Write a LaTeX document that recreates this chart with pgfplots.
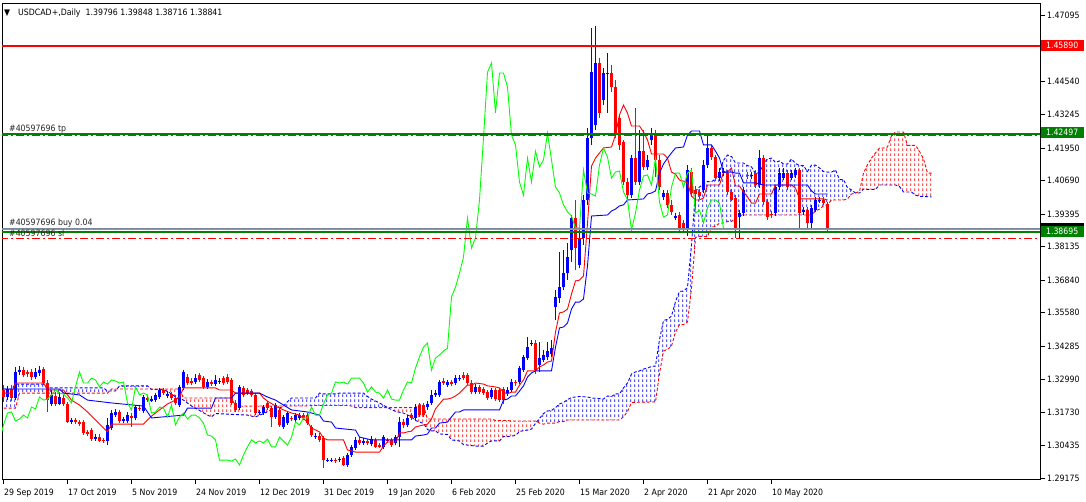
\documentclass[border=0pt]{standalone}
\usepackage{fontspec}
\setmainfont{DejaVu Sans Condensed}
\usepackage{pgfplots}
\pgfplotsset{compat=1.18}
\usepackage{pgfplotstable}
\usepgfplotslibrary{fillbetween}
\usetikzlibrary{patterns}
\definecolor{mtgreen}{RGB}{0,128,0}
\definecolor{mtlime}{RGB}{0,255,0}
\definecolor{mtred}{RGB}{255,0,0}
\definecolor{mtblue}{RGB}{0,0,255}
\definecolor{mtgray}{RGB}{119,136,153}
\pgfdeclarepatternformonly{mthatch}{\pgfpointorigin}{\pgfqpoint{4pt}{5pt}}{\pgfqpoint{4pt}{5pt}}{%
  \pgfpathrectangle{\pgfqpoint{3pt}{0pt}}{\pgfqpoint{1pt}{3pt}}\pgfusepath{fill}}
\newcommand{\mtfont}{\fontsize{8.7}{10}\selectfont}

\pgfplotstableread{
i o h l c
0 1.3259 1.3278 1.3213 1.3232
1 1.3232 1.3274 1.3220 1.3263
2 1.3263 1.3278 1.3216 1.3228
3 1.3228 1.3348 1.3220 1.3329
4 1.3329 1.3352 1.3317 1.3336
5 1.3336 1.3348 1.3309 1.3317
6 1.3329 1.3336 1.3309 1.3321
7 1.3329 1.3340 1.3298 1.3309
8 1.3309 1.3344 1.3302 1.3329
9 1.3325 1.3352 1.3313 1.3336
10 1.3340 1.3348 1.3278 1.3286
11 1.3286 1.3298 1.3174 1.3220
12 1.3205 1.3259 1.3197 1.3240
13 1.3236 1.3251 1.3197 1.3205
14 1.3205 1.3251 1.3201 1.3232
15 1.3228 1.3240 1.3197 1.3205
16 1.3205 1.3213 1.3131 1.3135
17 1.3135 1.3151 1.3128 1.3143
18 1.3143 1.3151 1.3128 1.3135
19 1.3135 1.3143 1.3120 1.3128
20 1.3135 1.3143 1.3085 1.3093
21 1.3097 1.3104 1.3081 1.3089
22 1.3104 1.3112 1.3062 1.3069
23 1.3069 1.3089 1.3062 1.3077
24 1.3077 1.3089 1.3058 1.3062
25 1.3066 1.3073 1.3054 1.3062
26 1.3062 1.3151 1.3046 1.3124
27 1.3112 1.3182 1.3104 1.3170
28 1.3162 1.3186 1.3155 1.3174
29 1.3174 1.3182 1.3131 1.3139
30 1.3139 1.3155 1.3131 1.3147
31 1.3139 1.3174 1.3131 1.3162
32 1.3158 1.3170 1.3116 1.3151
33 1.3151 1.3201 1.3143 1.3193
34 1.3189 1.3201 1.3178 1.3186
35 1.3178 1.3240 1.3170 1.3232
36 1.3228 1.3236 1.3213 1.3220
37 1.3216 1.3236 1.3213 1.3224
38 1.3220 1.3247 1.3213 1.3240
39 1.3232 1.3267 1.3224 1.3259
40 1.3259 1.3267 1.3240 1.3247
41 1.3236 1.3255 1.3228 1.3244
42 1.3244 1.3251 1.3220 1.3228
43 1.3228 1.3240 1.3201 1.3209
44 1.3201 1.3278 1.3193 1.3271
45 1.3267 1.3336 1.3259 1.3329
46 1.3309 1.3321 1.3278 1.3286
47 1.3294 1.3305 1.3278 1.3286
48 1.3290 1.3321 1.3282 1.3305
49 1.3317 1.3325 1.3290 1.3298
50 1.3305 1.3313 1.3263 1.3271
51 1.3271 1.3302 1.3263 1.3290
52 1.3290 1.3298 1.3275 1.3282
53 1.3282 1.3317 1.3275 1.3298
54 1.3290 1.3305 1.3282 1.3294
55 1.3305 1.3313 1.3278 1.3286
56 1.3309 1.3321 1.3282 1.3290
57 1.3298 1.3305 1.3201 1.3209
58 1.3209 1.3220 1.3174 1.3182
59 1.3189 1.3278 1.3182 1.3271
60 1.3267 1.3274 1.3232 1.3240
61 1.3259 1.3267 1.3240 1.3247
62 1.3255 1.3263 1.3232 1.3240
63 1.3240 1.3247 1.3162 1.3170
64 1.3170 1.3182 1.3162 1.3174
65 1.3170 1.3201 1.3162 1.3193
66 1.3209 1.3216 1.3182 1.3189
67 1.3189 1.3197 1.3116 1.3155
68 1.3155 1.3209 1.3147 1.3201
69 1.3182 1.3189 1.3116 1.3124
70 1.3116 1.3162 1.3108 1.3155
71 1.3131 1.3178 1.3124 1.3170
72 1.3151 1.3158 1.3139 1.3147
73 1.3143 1.3170 1.3135 1.3162
74 1.3151 1.3170 1.3143 1.3162
75 1.3162 1.3170 1.3143 1.3151
76 1.3162 1.3170 1.3124 1.3131
77 1.3116 1.3124 1.3077 1.3085
78 1.3077 1.3093 1.3069 1.3081
79 1.3081 1.3093 1.3058 1.3066
80 1.3073 1.3081 1.2957 1.2988
81 1.2984 1.2996 1.2980 1.2988
82 1.2984 1.2996 1.2980 1.2988
83 1.2988 1.2996 1.2977 1.2984
84 1.2988 1.3000 1.2980 1.2992
85 1.2996 1.3004 1.2965 1.2969
86 1.2969 1.3015 1.2961 1.3008
87 1.3008 1.3047 1.3000 1.3039
88 1.3035 1.3077 1.3027 1.3066
89 1.3066 1.3077 1.3046 1.3054
90 1.3054 1.3073 1.3046 1.3062
91 1.3062 1.3069 1.3046 1.3054
92 1.3050 1.3081 1.3042 1.3069
93 1.3066 1.3073 1.3035 1.3039
94 1.3046 1.3054 1.3035 1.3039
95 1.3039 1.3085 1.3031 1.3077
96 1.3066 1.3073 1.3054 1.3062
97 1.3066 1.3073 1.3039 1.3046
98 1.3054 1.3085 1.3046 1.3077
99 1.3077 1.3155 1.3039 1.3135
100 1.3135 1.3147 1.3112 1.3124
101 1.3124 1.3162 1.3116 1.3151
102 1.3162 1.3170 1.3143 1.3151
103 1.3151 1.3205 1.3143 1.3193
104 1.3201 1.3209 1.3155 1.3162
105 1.3201 1.3209 1.3155 1.3162
106 1.3193 1.3216 1.3182 1.3205
107 1.3209 1.3259 1.3201 1.3240
108 1.3240 1.3259 1.3232 1.3247
109 1.3240 1.3298 1.3232 1.3290
110 1.3294 1.3305 1.3278 1.3286
111 1.3278 1.3298 1.3271 1.3290
112 1.3290 1.3298 1.3275 1.3282
113 1.3286 1.3317 1.3278 1.3305
114 1.3302 1.3317 1.3294 1.3305
115 1.3317 1.3329 1.3298 1.3305
116 1.3317 1.3325 1.3278 1.3286
117 1.3286 1.3298 1.3244 1.3251
118 1.3251 1.3282 1.3244 1.3271
119 1.3271 1.3278 1.3244 1.3251
120 1.3263 1.3271 1.3240 1.3247
121 1.3251 1.3259 1.3220 1.3228
122 1.3232 1.3267 1.3224 1.3259
123 1.3259 1.3267 1.3216 1.3224
124 1.3259 1.3267 1.3213 1.3220
125 1.3263 1.3271 1.3205 1.3220
126 1.3247 1.3271 1.3236 1.3259
127 1.3259 1.3302 1.3251 1.3290
128 1.3290 1.3298 1.3275 1.3286
129 1.3290 1.3352 1.3282 1.3344
130 1.3336 1.3394 1.3329 1.3387
131 1.3383 1.3464 1.3375 1.3425
132 1.3437 1.3452 1.3429 1.3441
133 1.3441 1.3452 1.3321 1.3336
134 1.3356 1.3445 1.3329 1.3383
135 1.3375 1.3414 1.3367 1.3394
136 1.3387 1.3445 1.3375 1.3410
137 1.3398 1.3452 1.3387 1.3421
138 1.3581 1.3646 1.3530 1.3619
139 1.3615 1.3793 1.3596 1.3657
140 1.3657 1.3801 1.3646 1.3711
141 1.3712 1.3828 1.3684 1.3773
142 1.3801 1.3936 1.3754 1.3924
143 1.3924 1.3994 1.3723 1.3808
144 1.3742 1.3878 1.3730 1.3847
145 1.3847 1.4013 1.3820 1.3994
146 1.3994 1.4272 1.3975 1.4234
147 1.4234 1.4659 1.4207 1.4488
148 1.4284 1.4667 1.4265 1.4524
149 1.4524 1.4543 1.4311 1.4331
150 1.4381 1.4504 1.4361 1.4485
151 1.4481 1.4562 1.4330 1.4485
152 1.4485 1.4516 1.4412 1.4431
153 1.4431 1.4458 1.4234 1.4245
154 1.4311 1.4323 1.4187 1.4207
155 1.4218 1.4226 1.4051 1.4063
156 1.4063 1.4079 1.3994 1.4013
157 1.4013 1.4168 1.4002 1.4156
158 1.4156 1.4350 1.4052 1.4063
159 1.4063 1.4265 1.4052 1.4183
160 1.4183 1.4265 1.4110 1.4122
161 1.4122 1.4168 1.4110 1.4149
162 1.4226 1.4272 1.4207 1.4253
163 1.4253 1.4265 1.4083 1.4149
164 1.4149 1.4168 1.4033 1.4044
165 1.4006 1.4033 1.3994 1.4021
166 1.4021 1.4033 1.3963 1.3975
167 1.3975 1.3994 1.3936 1.3948
168 1.3924 1.3944 1.3917 1.3932
169 1.3936 1.3948 1.3870 1.3886
170 1.3905 1.3917 1.3866 1.3886
171 1.3886 1.4129 1.3855 1.4110
172 1.4102 1.4118 1.4006 1.4021
173 1.4033 1.4049 1.3955 1.4017
174 1.4025 1.4036 1.3998 1.4009
175 1.4033 1.4149 1.4021 1.4129
176 1.4129 1.4253 1.4118 1.4195
177 1.4195 1.4207 1.4149 1.4160
178 1.4160 1.4168 1.4067 1.4079
179 1.4079 1.4118 1.4067 1.4102
180 1.4098 1.4118 1.4087 1.4106
181 1.4098 1.4110 1.4013 1.4025
182 1.4025 1.4036 1.3990 1.3994
183 1.4002 1.4013 1.3847 1.3878
184 1.3928 1.3955 1.3847 1.3944
185 1.3944 1.4044 1.3932 1.4033
186 1.4091 1.4102 1.4075 1.4087
187 1.4087 1.4102 1.4075 1.4091
188 1.4098 1.4110 1.4040 1.4052
189 1.4052 1.4187 1.4040 1.4156
190 1.4156 1.4168 1.3975 1.3986
191 1.3986 1.3998 1.3917 1.3928
192 1.3940 1.3951 1.3924 1.3936
193 1.3944 1.4052 1.3932 1.4044
194 1.4044 1.4118 1.4033 1.4098
195 1.4079 1.4118 1.4071 1.4098
196 1.4098 1.4110 1.4033 1.4044
197 1.4079 1.4110 1.4071 1.4098
198 1.4091 1.4118 1.4079 1.4110
199 1.4110 1.4118 1.3878 1.3944
200 1.3948 1.3967 1.3936 1.3955
201 1.3955 1.3967 1.3878 1.3905
202 1.3905 1.3975 1.3878 1.3963
203 1.3955 1.4006 1.3948 1.3994
204 1.3990 1.4006 1.3982 1.3994
205 1.3994 1.4006 1.3975 1.3982
206 1.39796 1.39848 1.38716 1.38841
}\ohlc

\pgfplotstableread{
x y
0 1.3247
2 1.3247
3 1.3286
10 1.3286
11 1.3259
15 1.3259
16 1.3240
17 1.3220
19 1.3201
21 1.3174
23 1.3143
25 1.3112
26 1.3097
27 1.3127
35 1.3127
36 1.3143
37 1.3158
39 1.3182
41 1.3205
43 1.3220
44 1.3232
45 1.3267
53 1.3267
54 1.3259
57 1.3259
58 1.3247
64 1.3247
65 1.3228
66 1.3216
68 1.3197
70 1.3182
72 1.3170
74 1.3162
76 1.3135
77 1.3112
79 1.3097
80 1.3073
81 1.3066
85 1.3066
86 1.3027
88 1.3019
94 1.3019
95 1.3042
96 1.3058
98 1.3058
99 1.3093
100 1.3093
101 1.3097
102 1.3100
103 1.3116
105 1.3124
106 1.3127
107 1.3147
108 1.3186
109 1.3205
110 1.3224
111 1.3224
112 1.3228
113 1.3236
114 1.3247
115 1.3263
116 1.3278
117 1.3278
118 1.3286
120 1.3282
121 1.3275
123 1.3271
124 1.3267
125 1.3251
126 1.3244
127 1.3251
128 1.3251
129 1.3278
130 1.3298
131 1.3333
133 1.3333
134 1.3348
135 1.3356
136 1.3367
137 1.3371
138 1.3483
139 1.3557
140 1.3561
141 1.3572
142 1.3630
143 1.3681
144 1.3684
145 1.3700
146 1.3903
147 1.4125
148 1.4156
149 1.4176
150 1.4195
152 1.4199
153 1.4245
154 1.4323
155 1.4361
156 1.4330
157 1.4280
159 1.4280
160 1.4257
161 1.4226
162 1.4172
165 1.4172
166 1.4156
167 1.4102
168 1.4094
169 1.4071
170 1.4067
171 1.4060
172 1.4009
173 1.3994
174 1.3994
175 1.4002
176 1.4052
179 1.4052
180 1.4102
181 1.4102
182 1.4118
183 1.4048
184 1.4048
185 1.4025
186 1.4006
187 1.3982
188 1.3982
189 1.4017
192 1.4017
193 1.4052
197 1.4052
198 1.4040
199 1.3998
205 1.3998
206 1.3994
}\tenkan

\pgfplotstableread{
x y
0 1.3263
14 1.3263
15 1.3247
19 1.3240
21 1.3220
27 1.3209
35 1.3197
37 1.3151
45 1.3162
46 1.3189
52 1.3189
53 1.3228
57 1.3228
58 1.3247
64 1.3247
66 1.3232
68 1.3220
70 1.3201
72 1.3182
76 1.3174
79 1.3162
80 1.3139
82 1.3135
83 1.3112
88 1.3104
89 1.3077
92 1.3066
102 1.3066
103 1.3081
105 1.3085
106 1.3089
107 1.3112
108 1.3112
109 1.3131
111 1.3135
112 1.3155
113 1.3174
114 1.3174
115 1.3182
124 1.3182
125 1.3220
126 1.3224
127 1.3236
128 1.3236
129 1.3255
130 1.3275
131 1.3309
132 1.3325
133 1.3333
137 1.3333
138 1.3425
139 1.3499
140 1.3503
141 1.3518
142 1.3572
143 1.3599
144 1.3599
145 1.3611
146 1.3739
147 1.3932
151 1.3936
152 1.3951
153 1.3959
154 1.3971
155 1.3975
156 1.3994
160 1.3998
161 1.4017
162 1.4021
163 1.4029
164 1.4098
165 1.4133
166 1.4156
167 1.4176
168 1.4195
170 1.4199
171 1.4245
172 1.4261
174 1.4261
175 1.4207
177 1.4207
178 1.4183
179 1.4156
180 1.4102
182 1.4102
183 1.4098
184 1.4098
185 1.4060
188 1.4060
189 1.4056
190 1.4052
201 1.4052
202 1.4029
203 1.4017
206 1.4017
}\kijun

\pgfplotstableread{
x y
0 1.3263
2 1.3263
3 1.3282
10 1.3282
11 1.3267
25 1.3267
26 1.3255
28 1.3255
29 1.3275
36 1.3275
37 1.3261
40 1.3261
41 1.3253
42 1.3244
43 1.3232
45 1.3220
47 1.3197
49 1.3180
51 1.3162
52 1.3155
53 1.3168
61 1.3162
62 1.3158
63 1.3155
65 1.3168
67 1.3182
69 1.3189
70 1.3197
71 1.3214
72 1.3228
78 1.3228
79 1.3247
80 1.3244
83 1.3244
84 1.3247
90 1.3247
91 1.3234
92 1.3224
94 1.3209
96 1.3191
98 1.3176
100 1.3170
102 1.3155
103 1.3141
105 1.3130
106 1.3106
107 1.3101
108 1.3101
109 1.3089
111 1.3087
112 1.3066
113 1.3064
114 1.3062
115 1.3048
118 1.3042
120 1.3042
121 1.3054
122 1.3062
124 1.3062
125 1.3079
126 1.3079
127 1.3081
128 1.3083
129 1.3099
131 1.3104
132 1.3108
133 1.3130
134 1.3149
135 1.3168
136 1.3178
137 1.3180
138 1.3191
139 1.3205
140 1.3211
141 1.3222
142 1.3230
144 1.3234
146 1.3232
147 1.3228
149 1.3226
150 1.3224
151 1.3236
152 1.3234
153 1.3244
154 1.3244
155 1.3267
156 1.3286
157 1.3321
158 1.3329
159 1.3333
160 1.3340
161 1.3344
162 1.3350
163 1.3352
164 1.3454
165 1.3528
166 1.3532
167 1.3545
168 1.3601
169 1.3640
170 1.3642
171 1.3655
172 1.3820
173 1.4029
174 1.4044
175 1.4056
176 1.4065
177 1.4065
178 1.4075
179 1.4102
180 1.4147
181 1.4168
182 1.4162
183 1.4137
185 1.4137
186 1.4127
187 1.4122
188 1.4096
189 1.4100
190 1.4135
191 1.4153
192 1.4156
193 1.4139
194 1.4145
195 1.4133
196 1.4133
197 1.4153
198 1.4135
199 1.4127
200 1.4127
201 1.4104
202 1.4129
203 1.4129
204 1.4118
205 1.4104
206 1.4102
207 1.4102
208 1.4110
209 1.4073
210 1.4073
211 1.4042
212 1.4033
213 1.4021
214 1.4021
215 1.4036
216 1.4035
218 1.4035
219 1.4052
223 1.4052
224 1.4046
225 1.4025
227 1.4025
228 1.4013
229 1.4008
232 1.4006
}\senA

\pgfplotstableread{
x y
0 1.3189
3 1.3189
4 1.3247
26 1.3247
27 1.3263
44 1.3263
45 1.3228
57 1.3228
58 1.3197
76 1.3197
77 1.3199
86 1.3199
87 1.3197
88 1.3191
103 1.3191
104 1.3203
105 1.3197
106 1.3147
122 1.3147
123 1.3141
126 1.3141
127 1.3139
133 1.3139
134 1.3131
135 1.3127
136 1.3131
138 1.3131
139 1.3137
140 1.3137
141 1.3143
154 1.3143
155 1.3155
156 1.3176
157 1.3211
163 1.3213
164 1.3323
165 1.3410
166 1.3416
167 1.3429
168 1.3483
169 1.3512
170 1.3512
171 1.3522
172 1.3652
173 1.3849
174 1.3853
176 1.3853
177 1.3890
178 1.3891
179 1.3905
180 1.3905
181 1.3911
182 1.3911
183 1.3924
184 1.3934
185 1.3936
202 1.3936
203 1.3951
204 1.3959
205 1.3971
206 1.3975
207 1.3994
210 1.3994
211 1.3998
212 1.4017
213 1.4021
214 1.4027
215 1.4098
216 1.4131
217 1.4156
218 1.4176
219 1.4195
220 1.4195
221 1.4199
222 1.4243
223 1.4257
225 1.4257
226 1.4205
228 1.4205
229 1.4182
230 1.4153
231 1.4098
232 1.4098
}\senB

\begin{document}
\begin{tikzpicture}
\begin{axis}[
  at={(2pt,22pt)}, anchor=south west,
  scale only axis, width=1038pt, height=476pt,
  xmin=-0.375, xmax=259.125,
  ymin=1.29148, ymax=1.47559,
  axis line style={black, line width=0.9pt},
  tick align=outside,
  major tick length=5pt,
  tick style={black, line width=0.9pt},
  xtick pos=left, ytick pos=right,
  yticklabel pos=right,
  xtick={0,16,32,48,64,80,96,112,128,144,160,176,192},
  xticklabels={29 Sep 2019,17 Oct 2019,5 Nov 2019,24 Nov 2019,12 Dec 2019,31 Dec 2019,19 Jan 2020,6 Feb 2020,25 Feb 2020,15 Mar 2020,2 Apr 2020,21 Apr 2020,10 May 2020},
  ytick={1.29175,1.30435,1.31730,1.32990,1.34285,1.35580,1.36840,1.38135,1.39395,1.40690,1.41950,1.43245,1.44540,1.47095},
  yticklabels={1.29175,1.30435,1.31730,1.32990,1.34285,1.35580,1.36840,1.38135,1.39395,1.40690,1.41950,1.43245,1.44540,1.47095},
  ticklabel style={font=\mtfont, text=black},
  xticklabel style={anchor=north west, inner sep=0pt, xshift=0.5pt, yshift=-5pt},
  yticklabel style={anchor=west, inner sep=0pt, xshift=2pt},
  clip=true,
]
% Ichimoku cloud
\addplot[name path=sa, mtblue, line width=0.9pt, dash pattern=on 3pt off 2pt] table[x=x,y=y] {\senA};
\addplot[name path=sb, mtred, line width=0.9pt, dash pattern=on 3pt off 2pt] table[x=x,y=y] {\senB};
\addplot[pattern=mthatch, pattern color=mtblue, draw=none] fill between[of=sa and sb, soft clip={domain=0:26.5}];
\addplot[pattern=mthatch, pattern color=mtred, draw=none] fill between[of=sa and sb, soft clip={domain=26.5:28.5}];
\addplot[pattern=mthatch, pattern color=mtblue, draw=none] fill between[of=sa and sb, soft clip={domain=28.5:36.5}];
\addplot[pattern=mthatch, pattern color=mtred, draw=none] fill between[of=sa and sb, soft clip={domain=36.5:70}];
\addplot[pattern=mthatch, pattern color=mtblue, draw=none] fill between[of=sa and sb, soft clip={domain=70:95.9}];
\addplot[pattern=mthatch, pattern color=mtred, draw=none] fill between[of=sa and sb, soft clip={domain=95.9:133.4}];
\addplot[pattern=mthatch, pattern color=mtblue, draw=none] fill between[of=sa and sb, soft clip={domain=133.4:213}];
\addplot[pattern=mthatch, pattern color=mtred, draw=none] fill between[of=sa and sb, soft clip={domain=213:232}];
% candles: wicks
\addplot[draw=none, restrict expr to domain={\thisrow{c}-\thisrow{o}}{0:1},
  error bars/.cd, y dir=plus, y explicit, error mark=none,
  error bar style={draw=mtblue, solid, line width=1pt}]
  table[x=i, y=l, y error expr=\thisrow{h}-\thisrow{l}] {\ohlc};
\addplot[draw=none, restrict expr to domain={\thisrow{c}-\thisrow{o}}{-1:0},
  error bars/.cd, y dir=plus, y explicit, error mark=none,
  error bar style={draw=mtred, solid, line width=1pt}]
  table[x=i, y=l, y error expr=\thisrow{h}-\thisrow{l}] {\ohlc};
% candles: bodies
\addplot[draw=none, restrict expr to domain={\thisrow{c}-\thisrow{o}}{0:1},
  error bars/.cd, y dir=plus, y explicit, error mark=none,
  error bar style={draw=mtblue, solid, line width=3pt}]
  table[x=i, y=o, y error expr=\thisrow{c}-\thisrow{o}] {\ohlc};
\addplot[draw=none, restrict expr to domain={\thisrow{c}-\thisrow{o}}{-1:0},
  error bars/.cd, y dir=plus, y explicit, error mark=none,
  error bar style={draw=mtred, solid, line width=3pt}]
  table[x=i, y=c, y error expr=\thisrow{o}-\thisrow{c}] {\ohlc};
% Tenkan, Kijun, Chikou
\addplot[mtred, line width=0.9pt] table[x=x,y=y] {\tenkan};
\addplot[mtblue, line width=0.9pt] table[x=x,y=y] {\kijun};
\addplot[mtlime, line width=0.9pt] table[x expr=\thisrow{i}-26, y=c] {\ohlc};
% horizontal object lines
\addplot[mtred, line width=2pt] coordinates {(-1,1.45890) (260,1.45890)};
\addplot[mtred, line width=0.9pt, dash pattern=on 8pt off 3pt on 2pt off 3pt] coordinates {(-1,1.42442) (260,1.42442)};
\addplot[mtgreen, line width=2pt] coordinates {(-1,1.42497) (260,1.42497)};
\addplot[mtred, line width=0.9pt, dash pattern=on 8pt off 3pt on 2pt off 3pt] coordinates {(-1,1.38458) (260,1.38458)};
\addplot[mtlime, line width=0.9pt] coordinates {(-1,1.38805) (260,1.38805)};
\addplot[mtgray, line width=0.9pt] coordinates {(-1,1.38841) (260,1.38841)};
\addplot[mtgreen, line width=2pt] coordinates {(-1,1.38695) (260,1.38695)};
\end{axis}
% labels
\node[anchor=base west, inner sep=0pt, font=\mtfont] at (4pt,485.3pt) {▼};
\node[anchor=base west, inner sep=0pt, font=\mtfont] at (18pt,485.3pt) {USDCAD+,Daily\ \ 1.39796 1.39848 1.38716 1.38841};
\node[anchor=base west, inner sep=0pt, font=\mtfont, text=black!85] at (9pt,369.5pt) {\#40597696 tp};
\node[anchor=base west, inner sep=0pt, font=\mtfont, text=black!85] at (9pt,275.5pt) {\#40597696 buy 0.04};
\node[anchor=base west, inner sep=0pt, font=\mtfont, text=black!85] at (9pt,264pt) {\#40597696 sl};
\node[fill=mtred, text=white, inner sep=0pt, minimum height=11pt, minimum width=43pt, anchor=west, font=\mtfont] at (1040.5pt,455.5pt) {1.45890};
\node[fill=mtgreen, text=white, inner sep=0pt, minimum height=11pt, minimum width=43pt, anchor=west, font=\mtfont] at (1040.5pt,368.5pt) {1.42497};
\fill[black] (1040.5pt,267.1pt) rectangle (1083.5pt,278.1pt);
\node[fill=mtgreen, text=white, inner sep=0pt, minimum height=11pt, minimum width=43pt, anchor=west, font=\mtfont] at (1040.5pt,269.3pt) {1.38695};
\pgfresetboundingbox
\path[use as bounding box] (0,0) rectangle (1086pt,501pt);
\end{tikzpicture}
\end{document}
